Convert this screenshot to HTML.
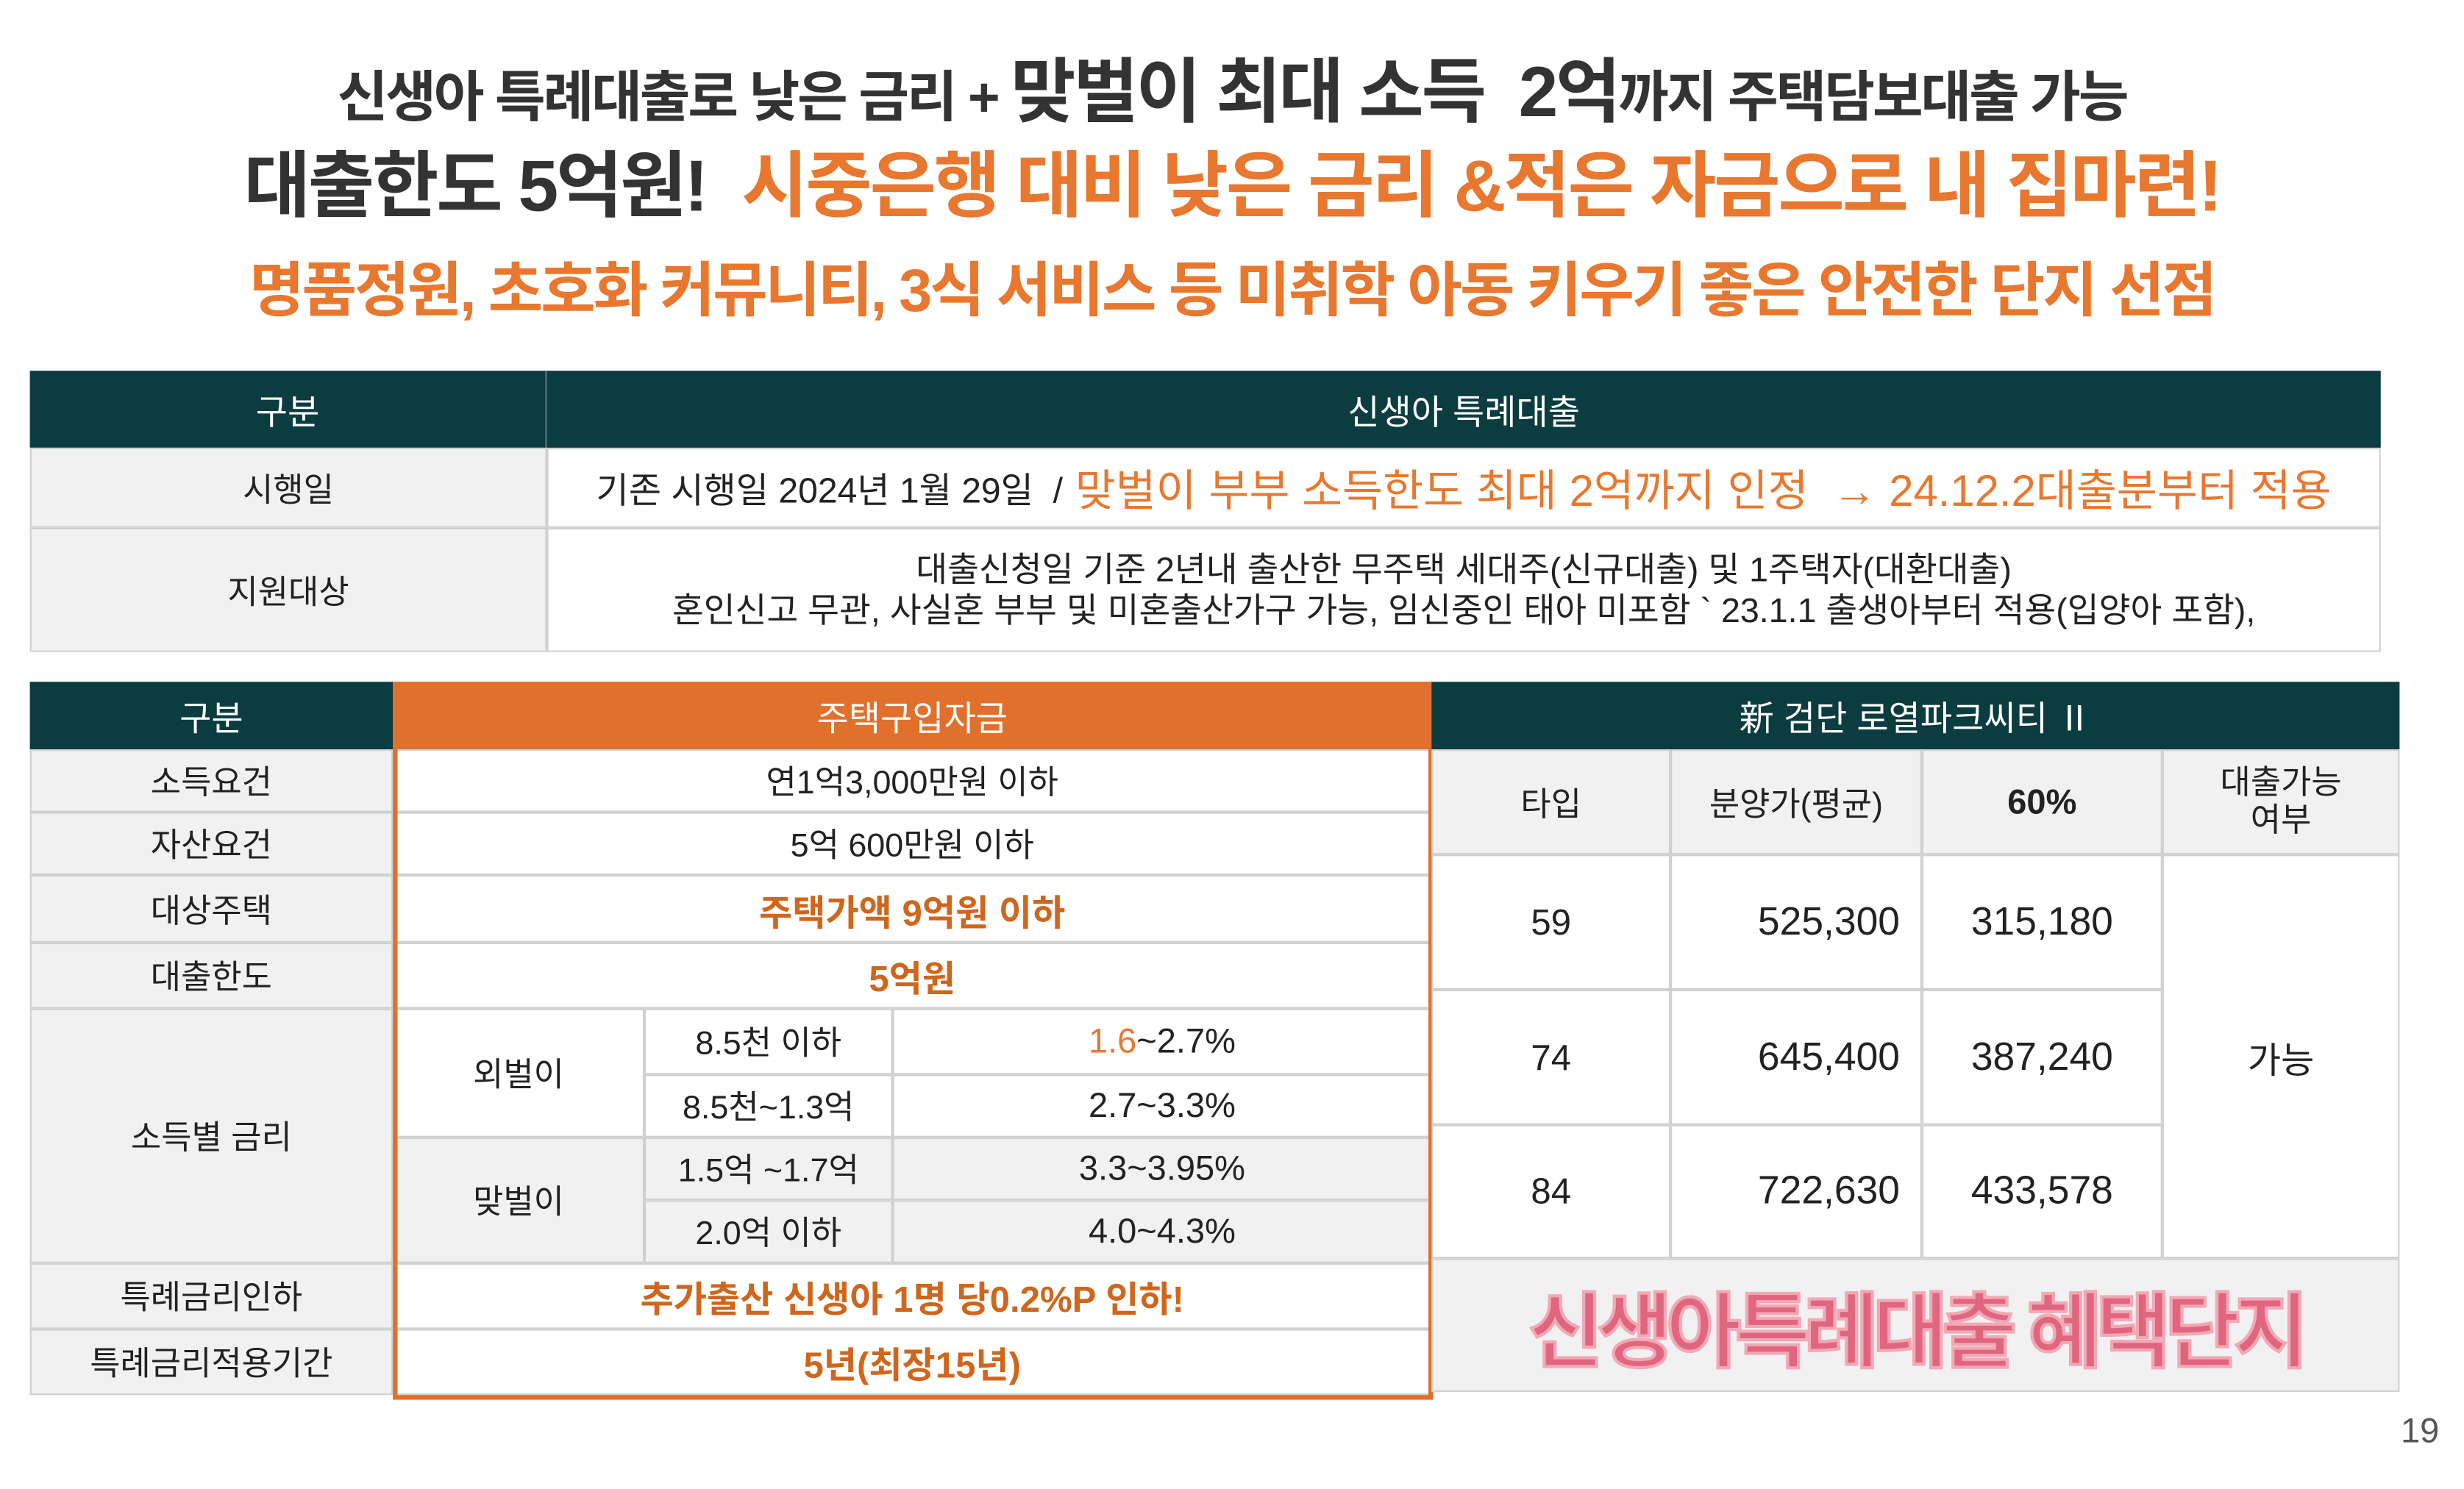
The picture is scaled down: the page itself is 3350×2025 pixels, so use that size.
<!DOCTYPE html>
<html><head><meta charset="utf-8">
<style>
*{margin:0;padding:0;box-sizing:border-box}
html,body{width:3350px;height:2025px;overflow:hidden;background:#fff}
#w{position:absolute;left:0;top:0;width:1568px;height:948px;transform:scale(2.13648);transform-origin:0 0;font-family:"Liberation Sans","Noto Sans CJK KR",sans-serif;color:#222}
.a{position:absolute;display:flex;align-items:center;justify-content:center;text-align:center;white-space:nowrap}
.t{position:absolute;left:0;width:1568px;text-align:center;font-weight:bold;white-space:nowrap;letter-spacing:-1.5px}
.or{color:#e8782f}
.dk{background:#0b3c3f;color:#fff}
.g{background:#f1f1f1}
.b{border:1px solid #d0d0d0}
.oc{color:#d0661c;font-weight:bold}
</style></head><body><div id="w">
<div class="t" style="top:22px;font-size:35px;color:#333">신생아 특례대출로 낮은 금리 + <span style="font-size:45px">맞벌이 최대 소득&nbsp; 2억</span>까지 주택담보대출 가능</div>
<div class="t" style="top:82px;font-size:46px;color:#333">대출한도 5억원!&nbsp; <span class="or">시중은행 대비 낮은 금리 &amp;적은 자금으로 내 집마련!</span></div>
<div class="t or" style="top:154px;font-size:38px">명품정원, 초호화 커뮤니티, 3식 서비스 등 미취학 아동 키우기 좋은 안전한 단지 선점</div>

<!-- table 1 -->
<div class="a dk" style="left:19px;top:236px;width:329px;height:49px;font-size:22px;border-right:1px solid #5a7a7c">구분</div>
<div class="a dk" style="left:348px;top:236px;width:1167px;height:49px;font-size:22px">신생아 특례대출</div>
<div class="a g b" style="left:19px;top:285px;width:329px;height:51px;font-size:21px">시행일</div>
<div class="a b" style="left:348px;top:285px;width:1167px;height:51px;font-size:22.5px">기존 시행일 2024년 1월 29일&nbsp; / <span class="or" style="font-size:28px">&nbsp;맞벌이 부부 소득한도 최대 2억까지 인정&nbsp; → 24.12.2대출분부터 적용</span></div>
<div class="a g b" style="left:19px;top:336px;width:329px;height:79px;font-size:21px">지원대상</div>
<div class="a b" style="left:348px;top:336px;width:1167px;height:79px;font-size:21.8px;line-height:26px;flex-direction:column">대출신청일 기준 2년내 출산한 무주택 세대주(신규대출) 및 1주택자(대환대출)<br>혼인신고 무관, 사실혼 부부 및 미혼출산가구 가능, 임신중인 태아 미포함 ` 23.1.1 출생아부터 적용(입양아 포함),</div>

<!-- table 2 left -->
<div class="a dk" style="left:19px;top:434px;width:231px;height:43px;font-size:22px">구분</div>
<div class="a g b" style="left:19px;top:477px;width:231px;height:40px;font-size:21px">소득요건</div>
<div class="a g b" style="left:19px;top:517px;width:231px;height:40px;font-size:21px">자산요건</div>
<div class="a g b" style="left:19px;top:557px;width:231px;height:43px;font-size:21px">대상주택</div>
<div class="a g b" style="left:19px;top:600px;width:231px;height:42px;font-size:21px">대출한도</div>
<div class="a g b" style="left:19px;top:642px;width:231px;height:162px;font-size:21px">소득별 금리</div>
<div class="a g b" style="left:19px;top:804px;width:231px;height:42px;font-size:21px">특례금리인하</div>
<div class="a g b" style="left:19px;top:846px;width:231px;height:42px;font-size:21px">특례금리적용기간</div>

<!-- orange column -->
<div class="a" style="left:250px;top:434px;width:661px;height:43px;font-size:22px;background:#e0702c;color:#fff">주택구입자금</div>
<div class="a b" style="left:250px;top:477px;width:661px;height:40px;font-size:21px">연1억3,000만원 이하</div>
<div class="a b" style="left:250px;top:517px;width:661px;height:40px;font-size:21px">5억 600만원 이하</div>
<div class="a b oc" style="left:250px;top:557px;width:661px;height:43px;font-size:23px">주택가액 9억원 이하</div>
<div class="a b oc" style="left:250px;top:600px;width:661px;height:42px;font-size:23px">5억원</div>
<div class="a b" style="left:250px;top:642px;width:160px;height:82px;font-size:21px">외벌이</div>
<div class="a b" style="left:410px;top:642px;width:158px;height:42px;font-size:21px">8.5천 이하</div>
<div class="a b" style="left:568px;top:642px;width:343px;height:42px;font-size:22px"><span class="or">1.6</span>~2.7%</div>
<div class="a b" style="left:410px;top:684px;width:158px;height:40px;font-size:21px">8.5천~1.3억</div>
<div class="a b" style="left:568px;top:684px;width:343px;height:40px;font-size:22px">2.7~3.3%</div>
<div class="a b g" style="left:250px;top:724px;width:160px;height:80px;font-size:21px">맞벌이</div>
<div class="a b g" style="left:410px;top:724px;width:158px;height:40px;font-size:21px">1.5억 ~1.7억</div>
<div class="a b g" style="left:568px;top:724px;width:343px;height:40px;font-size:22px">3.3~3.95%</div>
<div class="a b g" style="left:410px;top:764px;width:158px;height:40px;font-size:21px">2.0억 이하</div>
<div class="a b g" style="left:568px;top:764px;width:343px;height:40px;font-size:22px">4.0~4.3%</div>
<div class="a b oc" style="left:250px;top:804px;width:661px;height:42px;font-size:23px">추가출산 신생아 1명 당0.2%P 인하!</div>
<div class="a b oc" style="left:250px;top:846px;width:661px;height:42px;font-size:23px">5년(최장15년)</div>
<div style="position:absolute;left:250px;top:434px;width:662px;height:457px;border:3px solid #e0702c"></div>

<!-- right -->
<div class="a dk" style="left:911px;top:434px;width:616px;height:43px;font-size:22px">新 검단 로열파크씨티 Ⅱ</div>
<div class="a g b" style="left:911px;top:477px;width:152px;height:67px;font-size:21px">타입</div>
<div class="a g b" style="left:1063px;top:477px;width:160px;height:67px;font-size:21px">분양가(평균)</div>
<div class="a g b" style="left:1223px;top:477px;width:153px;height:67px;font-size:22px;font-weight:bold">60%</div>
<div class="a g b" style="left:1376px;top:477px;width:151px;height:67px;font-size:21px;line-height:24px">대출가능<br>여부</div>
<div class="a b" style="left:911px;top:544px;width:152px;height:86px;font-size:23px">59</div>
<div class="a b" style="left:1063px;top:544px;width:160px;height:86px;font-size:25px;justify-content:flex-end;padding-right:13px">525,300</div>
<div class="a b" style="left:1223px;top:544px;width:153px;height:86px;font-size:25px">315,180</div>
<div class="a b" style="left:911px;top:630px;width:152px;height:86px;font-size:23px">74</div>
<div class="a b" style="left:1063px;top:630px;width:160px;height:86px;font-size:25px;justify-content:flex-end;padding-right:13px">645,400</div>
<div class="a b" style="left:1223px;top:630px;width:153px;height:86px;font-size:25px">387,240</div>
<div class="a b" style="left:911px;top:716px;width:152px;height:85px;font-size:23px">84</div>
<div class="a b" style="left:1063px;top:716px;width:160px;height:85px;font-size:25px;justify-content:flex-end;padding-right:13px">722,630</div>
<div class="a b" style="left:1223px;top:716px;width:153px;height:85px;font-size:25px">433,578</div>
<div class="a b" style="left:1376px;top:544px;width:151px;height:257px;font-size:23px">가능</div>
<div class="a g b" style="left:911px;top:801px;width:616px;height:85px;font-size:52px;font-weight:bold;color:#e06680;-webkit-text-stroke:2px #f3a8b6;letter-spacing:-4px">신생아특례대출 혜택단지</div>

<div class="a" style="left:1520px;top:896px;width:40px;height:30px;font-size:22px;color:#555">19</div>
</div></body></html>
